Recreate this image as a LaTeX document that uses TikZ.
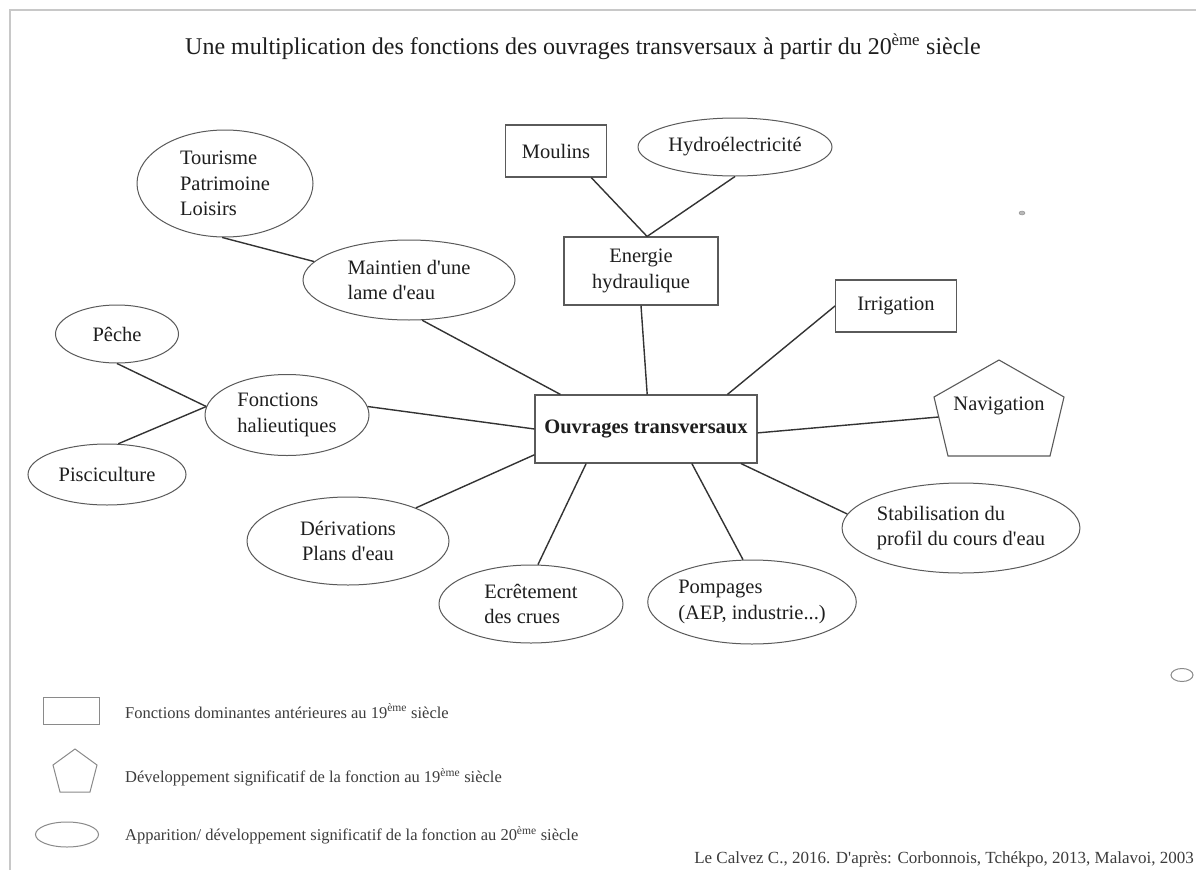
\documentclass[tikz,border=0pt]{standalone}
\usepackage{fontspec}
\setmainfont{Liberation Serif}
\usetikzlibrary{shapes.geometric,calc}
\definecolor{txt}{HTML}{1E1E1E}
\definecolor{edgec}{HTML}{333333}
\definecolor{shapec}{HTML}{5A5A5A}
\definecolor{legshape}{HTML}{8A8A8A}
\definecolor{legtxt}{HTML}{3C3C3C}
\definecolor{framec}{HTML}{C8C8C8}
\newcommand{\sq}{\textquotesingle}
\begin{document}
\begin{tikzpicture}[x=1pt,y=-1pt,
  nfont/.style={font=\fontsize{20.5}{25.5}\selectfont},
  boxn/.style={rectangle,draw=shapec,line width=1.1pt,inner sep=0pt,nfont,text=txt,align=center},
  elln/.style={ellipse,draw=shapec,line width=1pt,inner sep=0pt,nfont,text=txt},
  conn/.style={draw=edgec,line width=1.4pt},
  legtext/.style={anchor=west,inner sep=0pt,text=legtxt,font=\fontsize{16.5}{19}\selectfont},
  legshp/.style={draw=legshape,line width=1pt}]
\useasboundingbox (0,0) rectangle (1196,870);
\fill[white] (0,0) rectangle (1196,870);
% frame lines
\draw[framec,line width=2pt] (10,870) -- (10,10) -- (1196,10);
% title
\node[text=txt,font=\fontsize{24}{28}\selectfont] (title) at (583,47) {Une multiplication des fonctions des ouvrages transversaux à partir du 20\textsuperscript{ème} siècle};
% nodes
\node[boxn,minimum width=101pt,minimum height=52pt] (moulins) at (556,151) {Moulins};
\node[elln,minimum width=194pt,minimum height=58pt] (hydro) at (735,147) {Hydroélectricité};
\node[boxn,minimum width=154pt,minimum height=68pt] (energie) at (641,271) {Energie\\hydraulique};
\node[elln,align=left,minimum width=176pt,minimum height=107pt] (tourisme) at (225,183.5) {Tourisme\\Patrimoine\\Loisirs};
\node[elln,align=left,minimum width=212pt,minimum height=80pt] (maintien) at (409,280) {Maintien d\sq une\\lame d\sq eau};
\node[boxn,minimum width=121pt,minimum height=52pt] (irrigation) at (896,306) {Irrigation};
\node[boxn,minimum width=222pt,minimum height=68pt,font=\fontsize{20.5}{25.5}\selectfont\bfseries] (ouvrages) at (646,429) {Ouvrages transversaux};
\node[nfont,text=txt,inner sep=0pt] (navigation) at (999,406) {Navigation};
\draw[shapec,line width=1.1pt] (999,360) -- (1064,397) -- (1050,456) -- (948,456) -- (934,397) -- cycle;
\coordinate (navleft) at (938.5,417);
\node[elln,minimum width=123pt,minimum height=58pt] (peche) at (117,334) {Pêche};
\node[elln,align=left,minimum width=164pt,minimum height=81pt] (fonctions) at (287,415) {Fonctions\\halieutiques};
\node[elln,minimum width=158pt,minimum height=61pt] (pisci) at (107,474.5) {Pisciculture};
\node[elln,align=center,minimum width=202pt,minimum height=88pt] (derivations) at (348,541) {Dérivations\\Plans d\sq eau};
\node[elln,align=left,minimum width=184pt,minimum height=78pt] (ecretement) at (531,604) {Ecrêtement\\des crues};
\node[elln,align=left,minimum width=204pt,minimum height=84pt] (pompages) at (752,602) {Pompages\\(AEP, industrie...)};
\node[elln,align=left,minimum width=214pt,minimum height=90pt] (stab) at (961,528) {Stabilisation du\\profil du cours d\sq eau};
% connectors
\draw[conn] (tourisme.267) -- (maintien.169);
\draw[conn] (maintien.288) -- (ouvrages.158);
\draw[conn] (moulins.323) -- (energie.80);
\draw[conn] (hydro.south) -- (energie.80);
\draw[conn] (energie.south) -- (ouvrages.88);
\draw[conn] (irrigation.west) -- (ouvrages.23);
\draw[conn] (ouvrages.358) -- (navleft);
\draw[conn] (fonctions.6) -- (ouvrages.west);
\draw[conn] (peche.south) -- (fonctions.174);
\draw[conn] (pisci.70) -- (fonctions.174);
\draw[conn] (derivations.26) -- (ouvrages.193);
\draw[conn] (ecretement.80) -- (ouvrages.210);
\draw[conn] (pompages.102) -- (ouvrages.323);
\draw[conn] (stab.173) -- (ouvrages.340);
% stray marks
\node[ellipse,draw=legshape,fill=legshape!60,inner sep=0pt,minimum width=6pt,minimum height=4pt] (dot) at (1022,213) {};
\node[ellipse,draw=legshape,line width=1pt,inner sep=0pt,minimum width=22pt,minimum height=13pt] (smallell) at (1182,675) {};
% legend
\node[legshp,rectangle,inner sep=0pt,minimum width=56pt,minimum height=27pt] (legrect) at (71,710.5) {};
\draw[legshp] (75,749) -- (97,765) -- (90,792) -- (60,792) -- (53,765) -- cycle;
\node[legshp,ellipse,inner sep=0pt,minimum width=63pt,minimum height=25pt] (legell) at (67,834.5) {};
\node[legtext] (leg1) at (125,711) {Fonctions dominantes antérieures au 19\textsuperscript{ème} siècle};
\node[legtext] (leg2) at (125,777) {Développement significatif de la fonction au 19\textsuperscript{ème} siècle};
\node[legtext] (leg3) at (125,835) {Apparition/ développement significatif de la fonction au 20\textsuperscript{ème} siècle};
\node[anchor=east,inner sep=0pt,text=legtxt,font=\fontsize{17}{20}\selectfont] (cite) at (1194,859) {Le Calvez C., 2016. D\sq après: Corbonnois, Tchékpo, 2013, Malavoi, 2003};
\end{tikzpicture}
\end{document}
